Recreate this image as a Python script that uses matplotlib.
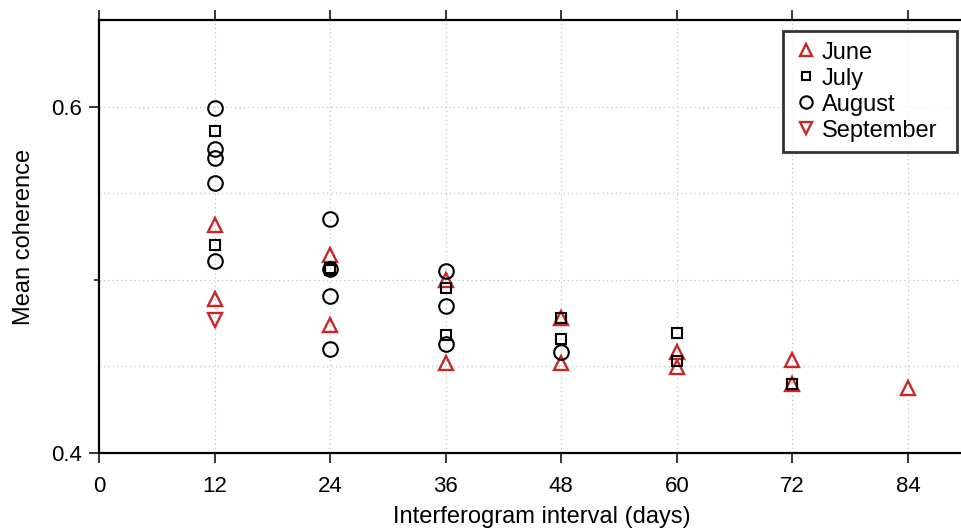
import numpy as np
import matplotlib
matplotlib.use("Agg")
import matplotlib.pyplot as plt

plt.rcParams['font.family'] = ['Liberation Sans', 'DejaVu Sans']

# mean coherence per interferogram interval (days)
june_x = [12, 12, 24, 24, 36, 36, 48, 48, 60, 60, 72, 72, 84]
june_y = [0.5314, 0.4892, 0.5141, 0.4738, 0.4997, 0.4521, 0.4782, 0.4517, 0.4584, 0.4494, 0.4536, 0.4396, 0.4377]

july_x = [12, 12, 24, 24, 36, 36, 48, 48, 60, 60, 72]
july_y = [0.5862, 0.5203, 0.5067, 0.5056, 0.4955, 0.4680, 0.4782, 0.4661, 0.4690, 0.4532, 0.4396]

aug_x = [12, 12, 12, 12, 12, 24, 24, 24, 24, 36, 36, 36, 48]
aug_y = [0.5993, 0.5756, 0.5704, 0.5558, 0.5107, 0.5353, 0.5060, 0.4905, 0.4598, 0.5049, 0.4847, 0.4632, 0.4584]

sep_x = [12]
sep_y = [0.4767]

x_ticks = [0, 12, 24, 36, 48, 60, 72, 84]
red = '#c62828'

W, H = 962, 529
ax_left, ax_w = 99, 92 * 9.63      # axis runs past the right edge of the image
ax_top, ax_bot = 20, 453

fig = plt.figure(figsize=(W / 100, H / 100), dpi=100)
ax = fig.add_axes([ax_left / W, (H - ax_bot) / H, ax_w / W, (ax_bot - ax_top) / H])

# dotted grid
for gx in x_ticks[1:]:
    ax.axvline(gx, color='#c4c4c4', ls=(0, (1, 2.5)), lw=0.9, zorder=0)
for gy in [0.45, 0.5, 0.55, 0.6]:
    ax.axhline(gy, color='#c4c4c4', ls=(0, (1, 2.5)), lw=0.9, zorder=0)

ax.plot(june_x, june_y, '^', ms=10, mfc='none', mec=red, mew=1.7, ls='none', label='June')
ax.plot(july_x, july_y, 's', ms=7.5, mfc='none', mec='black', mew=1.5, ls='none', label='July')
ax.plot(aug_x, aug_y, 'o', ms=10.5, mfc='none', mec='black', mew=1.5, ls='none', label='August')
ax.plot(sep_x, sep_y, 'v', ms=10, mfc='none', mec=red, mew=1.7, ls='none', label='September')

ax.set_xlim(0, 92)
ax.set_ylim(0.4, 0.65)
ax.set_xticks(x_ticks)
ax.set_yticks([0.4, 0.6])
ax.set_yticks([0.5], minor=True)
ax.tick_params(axis='both', which='major', direction='out', length=7, width=1.1,
               labelsize=16, top=True, right=False)
ax.tick_params(axis='x', which='major', pad=9.2)
ax.tick_params(axis='y', which='major', pad=5)
ax.tick_params(axis='y', which='minor', direction='out', length=3.5, width=1.1)
for s in ax.spines.values():
    s.set_linewidth(1.6)
ax.spines['right'].set_visible(False)   # lies outside the cropped image anyway

ax.set_xlabel('Interferogram interval (days)', fontsize=17, labelpad=6.5)
ax.set_ylabel('Mean coherence', fontsize=17, labelpad=12)

# legend box spans px 783..957 horizontally, top at px 31
leg_x0 = (783 - ax_left) / ax_w
leg_w = (957 - 783) / ax_w
leg_top = (ax_bot - 31) / (ax_bot - ax_top)
leg = ax.legend(loc='upper left', bbox_to_anchor=(leg_x0, leg_top - 0.3, leg_w, 0.3),
                mode='expand', fontsize=17, frameon=True, fancybox=False, edgecolor='black',
                handlelength=1.05, handletextpad=0.15, labelspacing=0.17, borderpad=0.45,
                markerscale=0.85, borderaxespad=0)
leg.get_frame().set_linewidth(2.0)

fig.savefig('out.png', dpi=100)
